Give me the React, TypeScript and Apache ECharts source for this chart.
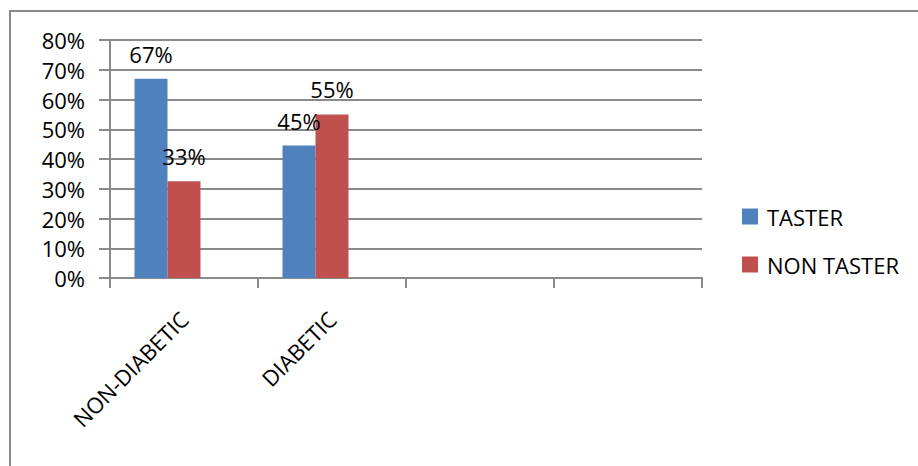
import React, { useEffect, useRef } from "react";
import * as echarts from "echarts";

const categories = ["NON-DIABETIC", "DIABETIC", "", ""];
const tasterValues = [0.67, 0.445, null, null];
const nonTasterValues = [0.325, 0.55, null, null];
const emptySeriesValues = [null, null, null, null];
const seriesNames = ["TASTER", "NON TASTER"];
const yMin = 0;
const yMax = 0.8;
const yInterval = 0.1;

const FONT = "Open Sans";
const GRID = "#8a8a8a";

export default function App() {
  const ref = useRef<HTMLDivElement>(null);
  useEffect(() => {
    if (!ref.current) return;
    const chart = echarts.init(ref.current, null, { renderer: "svg" });
    const pct = (v: number) => Math.round(v * 100 + 1e-9) + "%";
    const labelCfg = {
      show: true,
      position: "top",
      distance: 14,
      color: "#000",
      fontFamily: FONT,
      fontSize: 22,
      formatter: (p: any) => (p.value == null ? "" : pct(p.value)),
    };
    chart.setOption({
      animation: false,
      backgroundColor: "#fff",
      textStyle: { fontFamily: FONT },
      grid: { left: 110, right: 216, top: 40, bottom: 188, containLabel: false },
      graphic: [
        {
          type: "rect",
          shape: { x: 10, y: 11, width: 1000, height: 1000 },
          style: { fill: "none", stroke: GRID, lineWidth: 2 },
          silent: true,
        },
      ],
      legend: {
        orient: "vertical",
        left: 742,
        top: 202,
        padding: 0,
        data: seriesNames,
        itemWidth: 16,
        itemHeight: 16,
        itemGap: 19,
        icon: "rect",
        textStyle: { fontFamily: FONT, fontSize: 22, color: "#000", lineHeight: 29, padding: [0, 0, 0, 4] },
      },
      xAxis: {
        type: "category",
        data: categories,
        boundaryGap: true,
        axisLine: { lineStyle: { color: GRID, width: 2 } },
        axisTick: { show: true, length: 10, lineStyle: { color: GRID, width: 2 }, inside: false },
        axisLabel: {
          interval: 0,
          rotate: 45,
          margin: 37,
          color: "#000",
          fontFamily: FONT,
          fontSize: 22,
        },
        splitLine: { show: false },
      },
      yAxis: {
        type: "value",
        min: yMin,
        max: yMax,
        interval: yInterval,
        axisLine: { show: true, lineStyle: { color: GRID, width: 2 } },
        axisTick: { show: true, length: 11, lineStyle: { color: GRID, width: 2 } },
        axisLabel: {
          formatter: (v: number) => pct(v),
          color: "#000",
          fontFamily: FONT,
          fontSize: 22,
          margin: 25,
        },
        splitLine: { show: true, lineStyle: { color: GRID, width: 2 } },
      },
      series: [
        {
          name: seriesNames[0],
          type: "bar",
          data: tasterValues,
          barWidth: 33,
          barGap: "0%",
          itemStyle: { color: "#4F81BD" },
          label: labelCfg,
        },
        {
          name: seriesNames[1],
          type: "bar",
          data: nonTasterValues,
          barWidth: 33,
          barGap: "0%",
          itemStyle: { color: "#C0504D" },
          label: labelCfg,
        },
        {
          name: "",
          type: "bar",
          data: emptySeriesValues,
          barWidth: 33,
          barGap: "0%",
          itemStyle: { color: "#9BBB59" },
        },
      ],
    });
    return () => chart.dispose();
  }, []);
  return (
    <div
      ref={ref}
      style={{ position: "absolute", left: 0, top: 0, width: 918, height: 466 }}
    />
  );
}
